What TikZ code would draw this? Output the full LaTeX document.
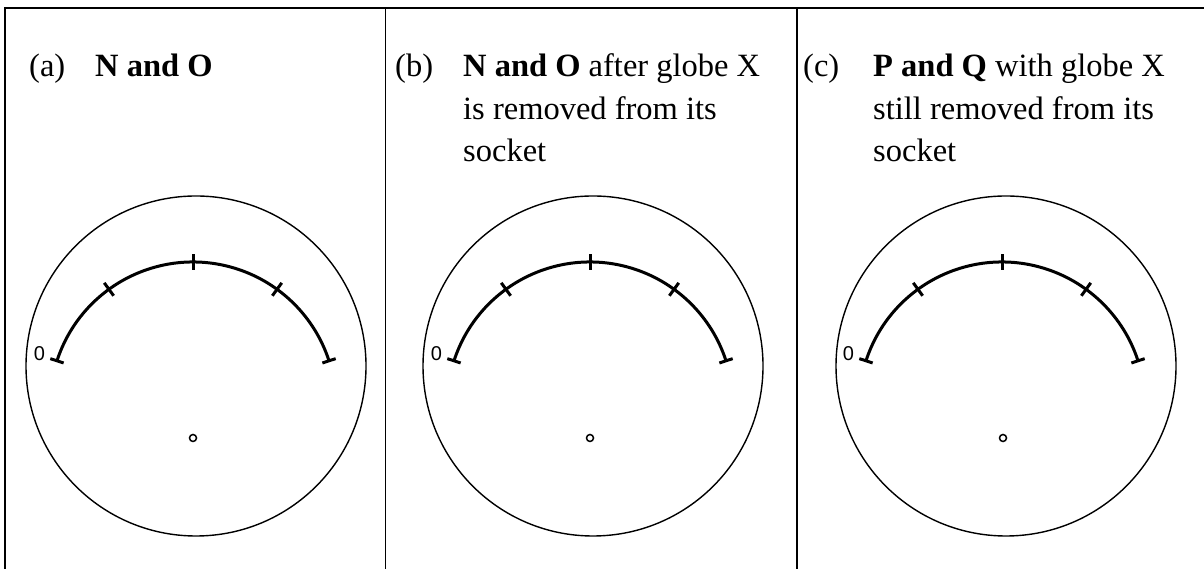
\documentclass[tikz,border=0pt]{standalone}
\usepackage{fontspec}
\setmainfont{Liberation Serif}
\newfontfamily\digitfont{Liberation Sans}
\newcommand{\gaugepanel}[4]{%
  \draw[dial] (#2,203) circle[radius=170];
  \coordinate (#4c) at (#1,164);
  \draw[scalearc] (#4c) ++(162:143) arc[start angle=162, end angle=18, radius=143];
  \foreach \a in {54,90,126} \draw[tickmark] (#4c) ++(\a:135) -- ++(\a:16);
  \foreach \a in {18,162} \draw[tickmark] (#4c) ++(\a:136) -- ++(\a:14);
  \draw[pivot] (#3,131) circle[radius=3.5];
  \node[zero] (#4zero) at (#1-153.5,215.5) {0};
}
\begin{document}
\begin{tikzpicture}[x=1pt,y=1pt,
  frame/.style={line width=2pt},
  thinframe/.style={line width=1pt},
  dial/.style={line width=1.4pt},
  scalearc/.style={line width=3pt},
  tickmark/.style={line width=3pt},
  pivot/.style={line width=1.5pt},
  caption/.style={anchor=base west, inner sep=0pt, font=\fontsize{32.5}{42.5}\selectfont},
  zero/.style={inner sep=0pt, font=\digitfont\fontsize{20}{20}\selectfont}]
\useasboundingbox (0,0) rectangle (1204,569);
% frame
\draw[frame] (5,0) -- (5,561) -- (1204,561);
\draw[thinframe] (385,0) -- (385,561);
\draw[frame] (797,0) -- (797,561);
% captions
\node[caption] (la) at (29,492) {(a)};
\node[caption] (ta) at (95,492) {\textbf{N and O}};
\node[caption] (lb) at (395,492) {(b)};
\node[caption] (tb1) at (463,492) {\textbf{N and O} after globe X};
\node[caption] (tb2) at (463,449.5) {is removed from its};
\node[caption] (tb3) at (463,407) {socket};
\node[caption] (lc) at (803,492) {(c)};
\node[caption] (tc1) at (873,492) {\textbf{P and Q} with globe X};
\node[caption] (tc2) at (873,449.5) {still removed from its};
\node[caption] (tc3) at (873,407) {socket};
% gauges
\gaugepanel{193}{196}{193}{a}
\gaugepanel{590}{593}{590}{b}
\gaugepanel{1002}{1006}{1003}{c}
\end{tikzpicture}
\end{document}
